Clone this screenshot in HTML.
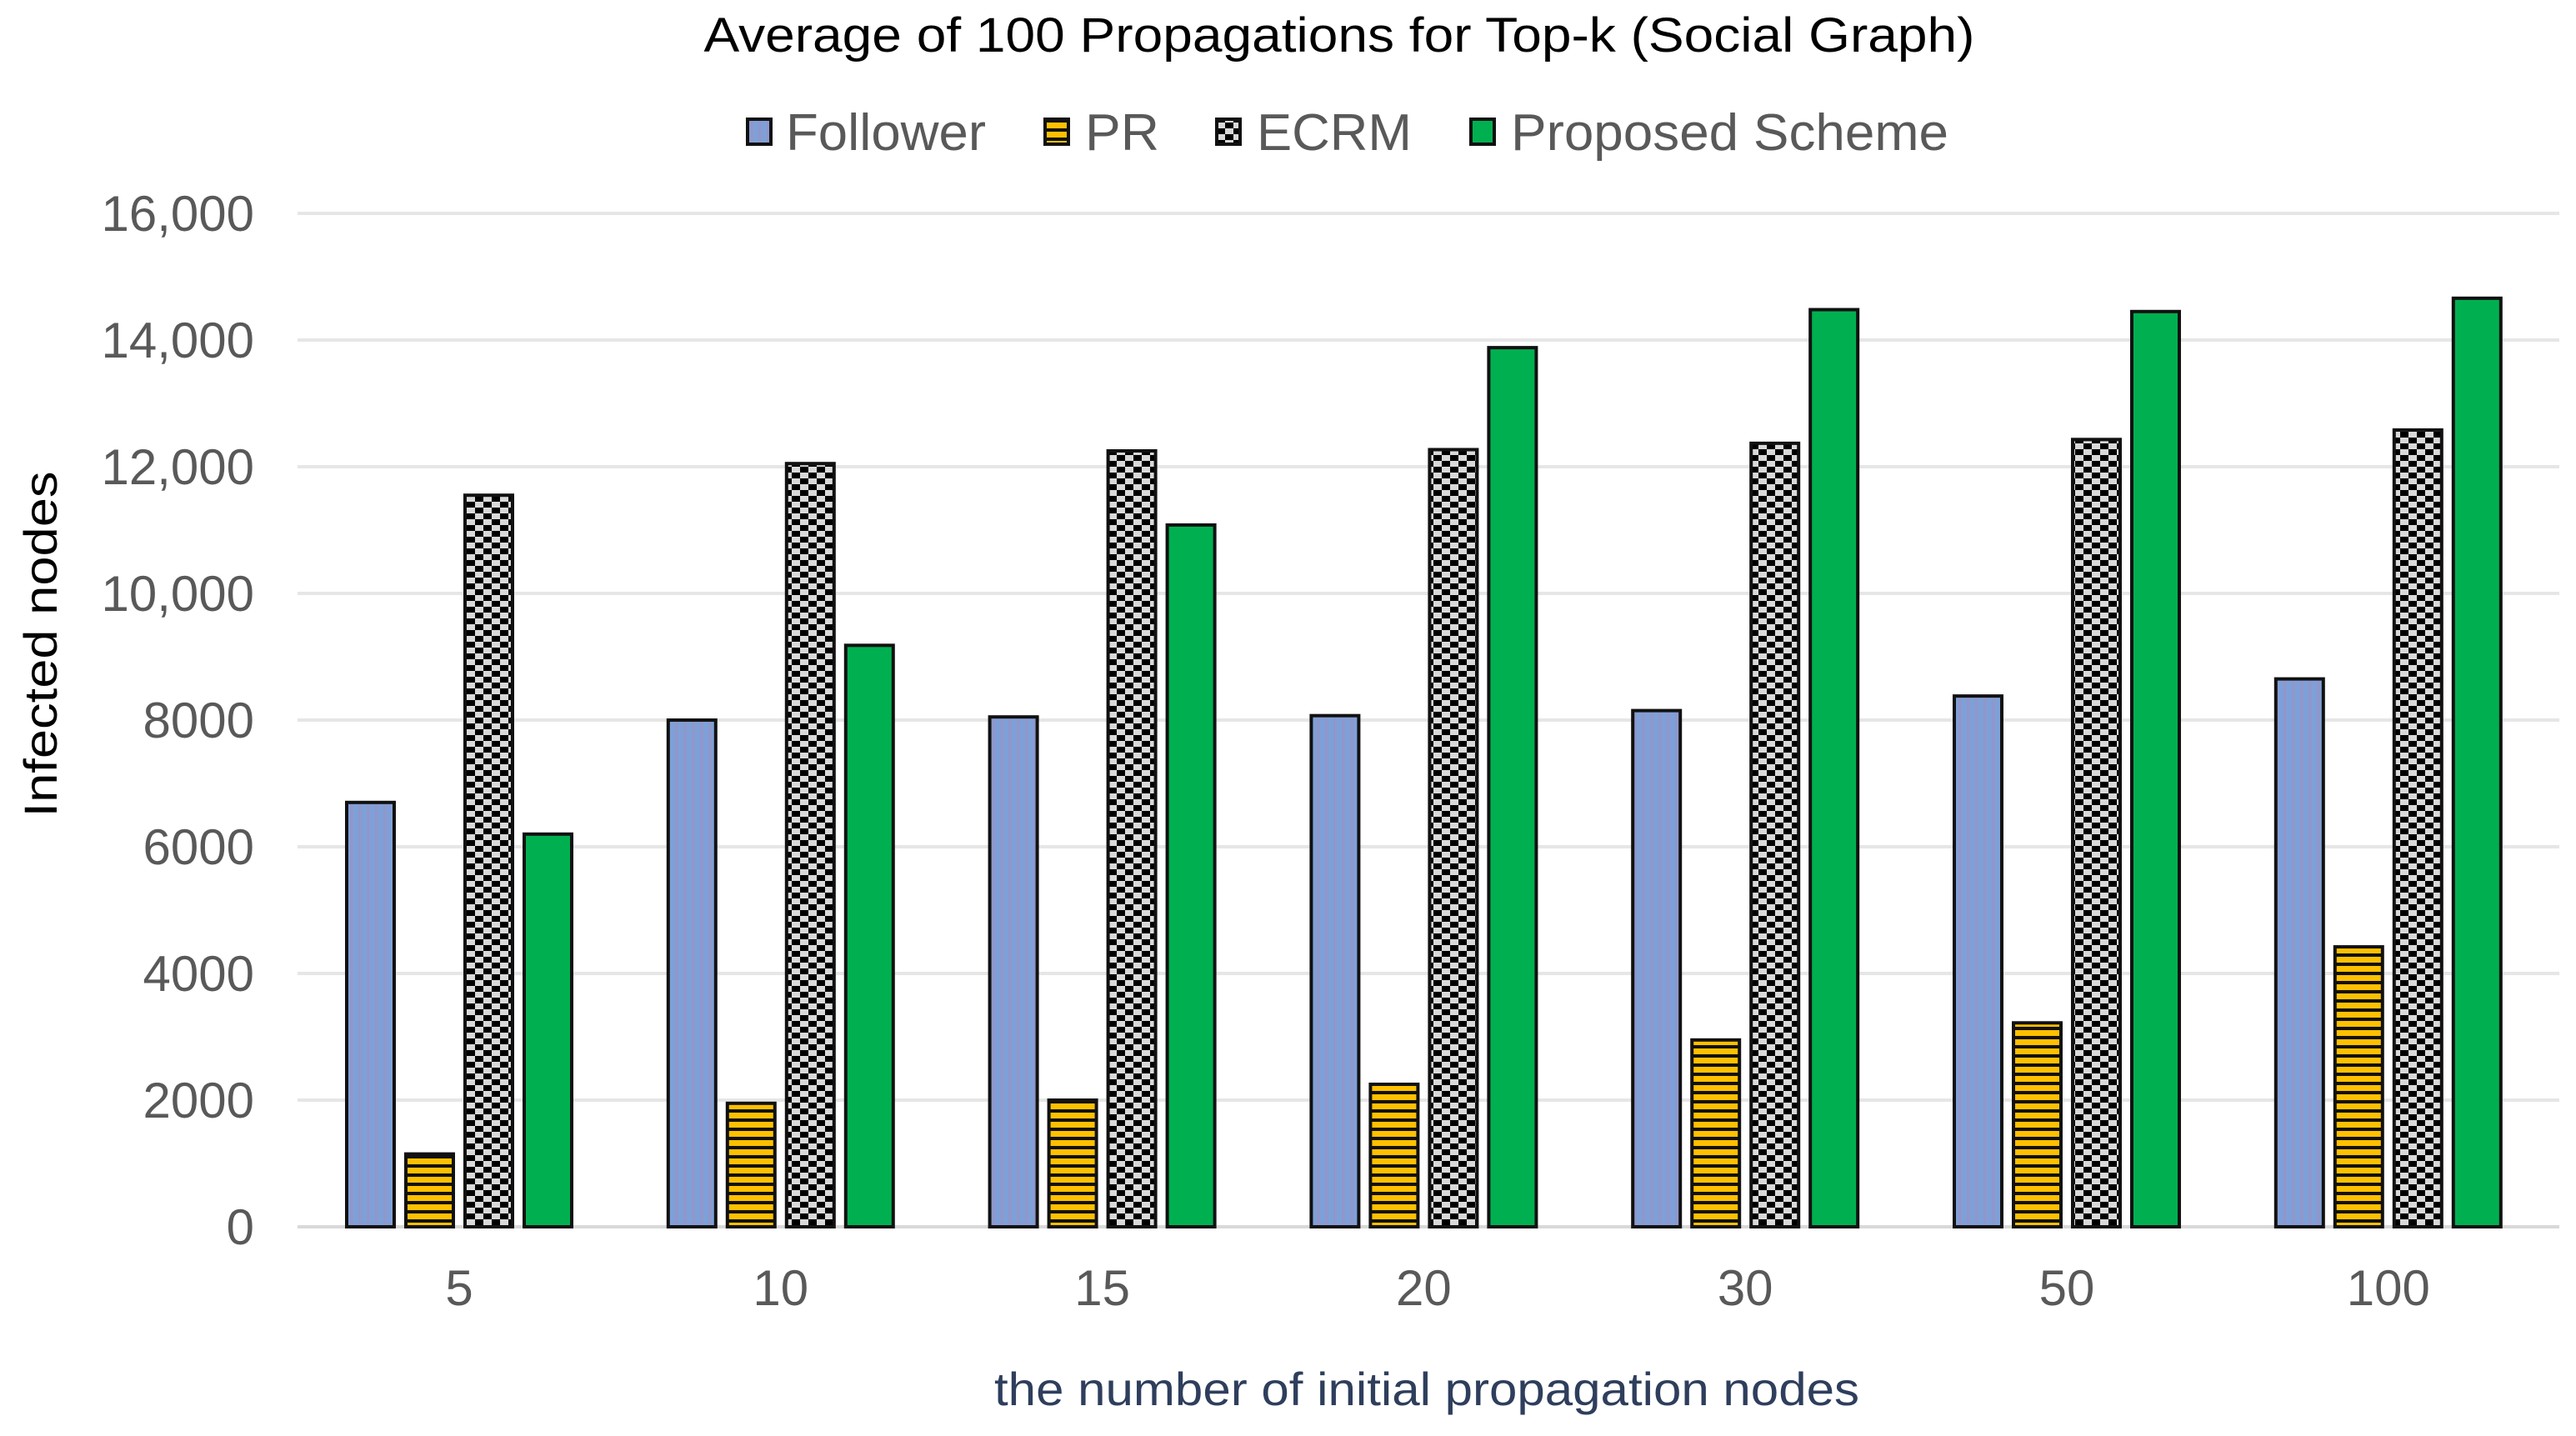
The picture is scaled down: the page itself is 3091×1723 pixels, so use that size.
<!DOCTYPE html>
<html><head><meta charset="utf-8"><style>
html,body{margin:0;padding:0;background:#fff;}
svg{display:block;font-family:"Liberation Sans",Arial,sans-serif;}
</style></head><body>
<svg id="chart" width="3091" height="1723" viewBox="0 0 3091 1723" xmlns="http://www.w3.org/2000/svg">
<defs>
<pattern id="pFol" patternUnits="userSpaceOnUse" width="10" height="10"><rect width="10" height="10" fill="#7ea0d8"/><rect width="4" height="10" fill="#8f97cc"/></pattern>
<pattern id="pPR" patternUnits="userSpaceOnUse" width="10" height="11"><rect width="10" height="11" fill="#ffc000"/><rect width="10" height="4" fill="#111"/></pattern>
<pattern id="pEC" patternUnits="userSpaceOnUse" width="20" height="14"><rect width="20" height="14" fill="#d9d9d9"/><rect width="10" height="7" fill="#000"/><rect x="10" y="7" width="10" height="7" fill="#000"/></pattern>
</defs>
<text x="1607" y="62" text-anchor="middle" font-size="58" fill="#000" textLength="1525" lengthAdjust="spacingAndGlyphs">Average of 100 Propagations for Top-k (Social Graph)</text>
<g id="legend"></g>
<g id="grid"></g>
<g id="bars"></g>
<g id="xlabels"></g>
<text transform="translate(68,773) rotate(-90)" text-anchor="middle" font-size="56" fill="#000" textLength="415" lengthAdjust="spacingAndGlyphs">Infected nodes</text>
<text x="1712" y="1686" text-anchor="middle" font-size="56" fill="#2e3e5c" textLength="1038" lengthAdjust="spacingAndGlyphs">the number of initial propagation nodes</text>
</svg>
<script>
const categories = ["5","10","15","20","30","50","100"];
const follower = [6700, 8000, 8050, 8070, 8150, 8380, 8650];
const pr = [1150, 1950, 2000, 2250, 2950, 3220, 4420];
const ecrm = [11550, 12050, 12250, 12270, 12370, 12430, 12580];
const proposed = [6200, 9180, 11080, 13880, 14480, 14450, 14660];
const yTicks = [0, 2000, 4000, 6000, 8000, 10000, 12000, 14000, 16000];
const yTickLabels = ["0","2000","4000","6000","8000","10,000","12,000","14,000","16,000"];
const seriesNames = ["Follower","PR","ECRM","Proposed Scheme"];

const NS = "http://www.w3.org/2000/svg";
const plotL = 357, plotR = 3071, y0 = 1472, yTop = 256, yMax = 16000;
const y = v => y0 - (v / yMax) * (y0 - yTop);
const firstC = 551, band = 385.8;
const xc = i => firstC + band * i;
const barW = 57, step = 71;
function mk(tag, attrs, parent) { const e = document.createElementNS(NS, tag); for (const k in attrs) e.setAttribute(k, attrs[k]); parent.appendChild(e); return e; }

const grid = document.getElementById('grid');
yTicks.forEach((t, i) => {
  const l = mk('line', {x1: plotL, x2: plotR, y1: y(t), y2: y(t), stroke: i === 0 ? '#d9d9d9' : '#e6e6e6', 'stroke-width': 4}, grid);
  
  
  const tx = mk('text', {x: 305, y: y(t) + 21, 'text-anchor': 'end', 'font-size': 60, fill: '#595959'}, grid);
  tx.textContent = yTickLabels[i];
  
  
});

const series = [follower, pr, ecrm, proposed];
const fills = ['url(#pFol)', 'url(#pPR)', 'url(#pEC)', '#00b050'];
const bars = document.getElementById('bars');
const xl = document.getElementById('xlabels');
categories.forEach((c, i) => {
  series.forEach((s, j) => {
    const x = xc(i) + (j - 1.5) * step - barW / 2;
    const r = mk('rect', {x: x, y: y(s[i]), width: barW, height: y0 - y(s[i]), fill: fills[j], stroke: '#111', 'stroke-width': 4}, bars);
    
    
  });
  const t = mk('text', {x: xc(i), y: 1566, 'text-anchor': 'middle', 'font-size': 60, fill: '#595959'}, xl);
  t.textContent = c;
  
  
});

const legend = document.getElementById('legend');
const legX = [897, 1254, 1460, 1765];
const legTextX = [943, 1302, 1508, 1813];
const legLen = [240, 89, 186, 525];
seriesNames.forEach((n, j) => {
  const r = mk('rect', {x: legX[j], y: 143, width: 28, height: 30, fill: fills[j], stroke: '#111', 'stroke-width': 4}, legend);
  
  
  const t = mk('text', {x: legTextX[j], y: 180, 'font-size': 62, fill: '#595959', textLength: legLen[j], lengthAdjust: 'spacingAndGlyphs'}, legend);
  t.textContent = n;
  
  
});
</script>
</body></html>
